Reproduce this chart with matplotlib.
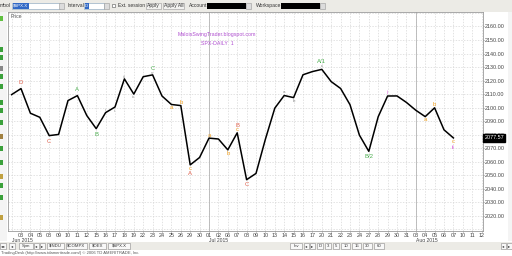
import numpy as np
import matplotlib.pyplot as plt
from matplotlib.patches import Rectangle
import matplotlib.transforms as mtransforms

plt.rcParams['font.family'] = ['Liberation Sans', 'DejaVu Sans']

# trading days shown on the axis (last three have no close yet)
dates = ["2015-06-02", "2015-06-03", "2015-06-04", "2015-06-05", "2015-06-08",
         "2015-06-09", "2015-06-10", "2015-06-11", "2015-06-12", "2015-06-15",
         "2015-06-16", "2015-06-17", "2015-06-18", "2015-06-19", "2015-06-22",
         "2015-06-23", "2015-06-24", "2015-06-25", "2015-06-26", "2015-06-29",
         "2015-06-30", "2015-07-01", "2015-07-02", "2015-07-06", "2015-07-07",
         "2015-07-08", "2015-07-09", "2015-07-10", "2015-07-13", "2015-07-14",
         "2015-07-15", "2015-07-16", "2015-07-17", "2015-07-20", "2015-07-21",
         "2015-07-22", "2015-07-23", "2015-07-24", "2015-07-27", "2015-07-28",
         "2015-07-29", "2015-07-30", "2015-07-31", "2015-08-03", "2015-08-04",
         "2015-08-05", "2015-08-06", "2015-08-07", "2015-08-10", "2015-08-11",
         "2015-08-12"]
closes = [2109.60, 2114.07, 2095.84, 2092.83, 2079.28, 2080.15, 2105.20, 2108.86,
          2094.11, 2084.43, 2096.29, 2100.44, 2121.24, 2109.99, 2122.85, 2124.20,
          2108.58, 2102.31, 2101.49, 2057.64, 2063.11, 2077.42, 2076.78, 2068.76,
          2081.34, 2046.68, 2051.31, 2076.62, 2099.60, 2108.95, 2107.40, 2124.29,
          2126.64, 2128.28, 2119.21, 2114.15, 2102.15, 2079.65, 2067.64, 2093.25,
          2108.57, 2108.63, 2103.84, 2098.04, 2093.32, 2099.84, 2083.56, 2077.57]

# wave labels: (bar index, text, colour group, offset in pixels)
wave_idx = [1, 4, 7, 9, 10, 11, 12, 13, 15, 15, 17, 18, 19, 19, 21, 23, 24, 24,
            25, 29, 30, 33, 33, 38, 40, 44, 45, 47, 47]
wave_txt = ["D", "C", "A", "B", "i", "ii", "iii", "iv", "C", "v", "a", "b", "c", "A",
            "a", "b", "c", "B", "C", "a", "b", "A/1", "c", "B/2", "i", "a", "b", "c", "ii"]
wave_grp = ["red", "red", "green", "green", "grey", "grey", "grey", "grey", "green",
            "grey", "orange", "orange", "orange", "red", "orange", "orange", "orange",
            "red", "red", "grey", "grey", "green", "grey", "green", "pink", "orange",
            "orange", "orange", "pink"]
wave_dy = [6, -6, 6, -6, 3, -4, 2, -3, 6, 2, -3, 3, -3.5, -9, 3, -3.5, 3.5, 7,
           -5, 3.5, -3.5, 7.5, 3, -5, 4, -3, 3, -3.5, -9.5]

colours = {"red": "#e0604c", "green": "#4caf50", "grey": "#8a8a8a",
           "orange": "#f0a020", "pink": "#e070e0"}

W, H = 512, 256
fig = plt.figure(figsize=(W / 100, H / 100), dpi=100)
fig.patch.set_facecolor("white")


def fx(x):
    return x / W


def fy(y):
    return 1 - y / H


# main price panel
x0, x1, y0, y1 = 8, 483, 12, 231
ax = fig.add_axes([fx(x0), fy(y1), fx(x1 - x0), (y1 - y0) / H])
n = len(dates)
xs = np.arange(n)
px_per_bar = 9.4
first_px = 11.6
ax.set_xlim((x0 - first_px) / px_per_bar, (x1 - first_px) / px_per_bar)
ppp = 1.352
ax.set_ylim(2150 - (y1 - 40) / ppp, 2150 + (40 - y0) / ppp)

for x in xs:
    ax.axvline(x, color="#d6d6d6", lw=0.5, ls=(0, (2, 2)), zorder=0)
for v in range(2010, 2180, 10):
    ax.axhline(v, color="#d6d6d6", lw=0.5, ls=(0, (2, 2)), zorder=0)

d64 = np.array(dates, dtype="datetime64[D]")
months = d64.astype("datetime64[M]")
new_month = [i for i in range(1, n) if months[i] != months[i - 1]]
for i in new_month:
    ax.axvline(i, color="#b4b4b4", lw=0.6, zorder=1)

ax.plot(xs[:len(closes)], closes, color="black", lw=1.1, zorder=3)

for i, t, g, dy in zip(wave_idx, wave_txt, wave_grp, wave_dy):
    small = g == "grey"
    ax.annotate(t, (i, closes[i]), xytext=(0, dy), textcoords="offset pixels",
                ha="center", va="center", color=colours[g],
                fontsize=3.2 if small else 4.3, zorder=4)

ax.text(0.44, 0.895, "MaloisSwingTrader.blogspot.com", transform=ax.transAxes,
        ha="center", va="center", fontsize=3.8, color="#b050d0")
ax.text(0.44, 0.858, "SPX-DAILY  1", transform=ax.transAxes,
        ha="center", va="center", fontsize=3.8, color="#b050d0")
ax.text(0.006, 0.99, "Price", transform=ax.transAxes, ha="left", va="top",
        fontsize=3.6, color="#555555")

# axes and ticks
ax.yaxis.tick_right()
ax.set_yticks(range(2020, 2170, 10))
ax.set_yticklabels([f"{v:.2f}" for v in range(2020, 2170, 10)])
day_labels = [str(d)[8:10] for d in dates]
ax.set_xticks(xs[1:])
ax.set_xticklabels(day_labels[1:])
ax.tick_params(axis="both", labelsize=3.9, colors="#444444", length=1.0, width=0.4, pad=0.6)
for s in ["top", "left", "bottom", "right"]:
    ax.spines[s].set_color("#9a9a9a")
    ax.spines[s].set_linewidth(0.6)

# month captions
month_starts = [0] + new_month
for i in month_starts:
    lab = str(d64[i].astype(object).strftime("%b %Y"))
    ax.annotate(lab, (i, 0), xycoords=("data", "axes fraction"), xytext=(0, -9.5),
                textcoords="offset pixels", ha="left", va="center",
                fontsize=3.6, color="#444444")

# last value box
trans = mtransforms.blended_transform_factory(ax.transAxes, ax.transData)
ax.text(1.003, closes[-1], f"{closes[-1]:.2f}", transform=trans, ha="left",
        va="center", fontsize=3.9, color="white",
        bbox=dict(boxstyle="square,pad=0.2", fc="black", ec="black"))

# ---- window chrome ----
def rect(x, y, w, h, fc, ec="none", lw=0.4):
    fig.patches.append(Rectangle((fx(x), fy(y + h)), w / W, h / H, fc=fc, ec=ec,
                                 lw=lw, transform=fig.transFigure, figure=fig))


def label(x, y, s, size=3.6, color="#333333", ha="left", **kw):
    fig.text(fx(x), fy(y), s, fontsize=size, color=color, ha=ha, va="center", **kw)


# top toolbar
rect(0, 0, W, 11.5, "#ecebe6")
label(0, 5.5, "mbol")
rect(12, 2.5, 48, 6.5, "white", "#7f9db9")
rect(12.5, 3, 16, 5.5, "#3169c6")
label(13, 5.8, "$SPX.X", size=3.2, color="white")
rect(59, 2.5, 5, 6.5, "#dcdcdc", "#999999")
label(68, 5.5, "Interval")
rect(84, 2.5, 20, 6.5, "white", "#7f9db9")
rect(84.5, 3, 4, 5.5, "#3169c6")
label(85, 5.8, "D", size=3.2, color="white")
rect(104, 2.5, 5, 6.5, "#dcdcdc", "#999999")
rect(112, 4, 3, 3, "white", "#555555")
label(118, 5.5, "Ext. session")
rect(146, 2.5, 15, 6.5, "#f2f2f0", "#999999")
label(153.5, 5.8, "Apply", ha="center")
rect(163, 2.5, 21, 6.5, "#f2f2f0", "#999999")
label(173.5, 5.8, "Apply All", ha="center")
label(189, 5.5, "Account")
rect(207, 2.5, 39, 6.5, "black")
rect(246, 2.5, 5, 6.5, "#dcdcdc", "#999999")
label(256, 5.5, "Workspace")
rect(281, 2.5, 39, 6.5, "black")
rect(320, 2.5, 5, 6.5, "#dcdcdc", "#999999")

# left indicator strip
rect(0, 12, 7, 229, "#f4f4f4")
for yy, c in [(16, "#60c040"), (47, "#3aa03a"), (55, "#3aa03a"), (66, "#888888"),
              (74, "#3aa03a"), (84, "#3aa03a"), (100, "#3aa03a"), (108, "#3aa03a"),
              (120, "#3aa03a"), (134, "#a08040"), (146, "#3aa03a"), (160, "#3aa03a"),
              (174, "#c0a040"), (183, "#3aa03a"), (195, "#3aa03a"), (215, "#c0a040")]:
    rect(0, yy, 3, 5, c)

# right strip
rect(508, 12, 4, 229, "#f4f4f4")

# bottom tabs
rect(0, 242, W, 8, "#ecebe6")
for xa, w, s in [(0, 6, "◂◂"), (9, 6, "◂"), (19, 14, "Sym"), (34, 5, "◂"), (40, 5, "▸"),
                 (47, 17, "$INDU"), (66, 21, "$COMPX"), (89, 17, "$OEX"), (108, 22, "$SPX.X"),
                 (290, 12, "Inv"), (304, 5, "◂"), (310, 5, "▸"), (317, 6, "D"), (325, 6, "3"),
                 (333, 6, "5"), (341, 9, "10"), (352, 9, "15"), (363, 9, "30"), (374, 10, "60"),
                 (501, 5, "◂"), (507, 5, "▸")]:
    rect(xa, 243, w, 5.5, "#f8f8f8", "#8a8a8a")
    label(xa + w / 2, 245.9, s, size=3.1, ha="center")
label(1, 253, "TradingDesk (http://www.tdameritrade.com/) © 2006 TD AMERITRADE, Inc.",
      size=3.0, color="#555555")

fig.savefig("out.png", dpi=100, facecolor=fig.get_facecolor())
